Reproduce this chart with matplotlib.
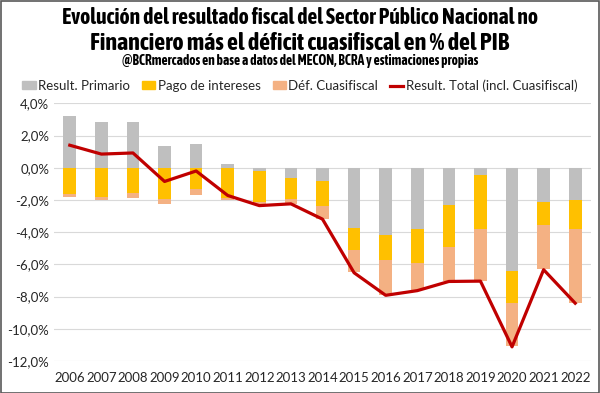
import numpy as np
from matplotlib import pyplot as plt
from matplotlib import font_manager
from matplotlib.patches import Patch, Rectangle
from matplotlib.lines import Line2D
from matplotlib.ticker import FuncFormatter

years = [str(y) for y in range(2006, 2023)]

# % del PIB
primario = [3.23, 2.86, 2.82, 1.38, 1.50, 0.25, -0.17, -0.66, -0.80,
            -3.77, -4.16, -3.79, -2.31, -0.43, -6.40, -2.12, -2.02]
intereses = [-1.65, -1.81, -1.57, -1.96, -1.32, -1.90, -1.93, -1.25, -1.59,
             -1.32, -1.56, -2.10, -2.61, -3.36, -1.98, -1.42, -1.77]
cuasifiscal = [-0.16, -0.17, -0.31, -0.29, -0.39, -0.08, -0.15, -0.37, -0.80,
               -1.41, -2.16, -1.72, -2.14, -3.25, -2.69, -2.76, -4.59]
total = [1.40, 0.85, 0.92, -0.85, -0.20, -1.72, -2.35, -2.24, -3.19,
         -6.52, -7.92, -7.63, -7.06, -7.04, -11.12, -6.33, -8.41]

c_prim = "#BFBFBF"
c_int = "#FFC000"
c_cuasi = "#F4B183"
c_tot = "#C00000"

plt.rcParams['font.family'] = ['Lato', 'DejaVu Sans']

# buscar una fuente angosta con negrita para el título
def es_angosta(f):
    n = f.name + " " + str(f.stretch)
    return any(k in n for k in ("Narrow", "Condensed", "condensed", "Cond"))

def peso(f):
    w = f.weight
    if isinstance(w, str):
        return 700 if "bold" in w.lower() else 400
    return w

cands = [f for f in font_manager.fontManager.ttflist if es_angosta(f) and peso(f) >= 600]
cands.sort(key=lambda f: (abs(peso(f) - 700), f.name))
title_family = [cands[0].name] if cands else []
title_family += ["DejaVu Sans"]

fig = plt.figure(figsize=(6, 3.93), dpi=100)
ax = fig.add_axes([0.09, 0.0814, 0.895, 0.6556])

x = np.arange(len(years))
pos = np.zeros(len(years))
neg = np.zeros(len(years))
for serie, col in [(primario, c_prim), (intereses, c_int), (cuasifiscal, c_cuasi)]:
    v = np.array(serie)
    base = np.where(v >= 0, pos, neg)
    ax.bar(x, v, width=0.4, bottom=base, color=col, zorder=2)
    pos = pos + np.where(v >= 0, v, 0)
    neg = neg + np.where(v < 0, v, 0)

ax.plot(x, total, color=c_tot, lw=2.3, zorder=3)

ax.set_xlim(-0.5, len(years) - 0.5)
ax.set_ylim(-12, 4)
ax.set_yticks(np.arange(-12, 5, 2))
ax.yaxis.set_major_formatter(FuncFormatter(lambda v, p: f"{v:.1f}%".replace(".", ",")))
ax.set_xticks(x)
ax.set_xticklabels(years)
ax.tick_params(length=0, labelsize=9.5, colors="#262626")
ax.tick_params(axis="x", pad=8)
ax.grid(axis="y", color="#D9D9D9", lw=0.8, zorder=0)
for s in ax.spines.values():
    s.set_visible(False)

tf = dict(ha="center", va="center", fontweight="bold", family=title_family,
          fontstretch="condensed")
t1 = fig.text(0.5, 0.955, "Evolución del resultado fiscal del Sector Público Nacional no",
              fontsize=14, **tf)
t2 = fig.text(0.5, 0.89, "Financiero más el déficit cuasifiscal en % del PIB",
              fontsize=14, **tf)
t3 = fig.text(0.5, 0.845, "@BCRmercados en base a datos del MECON, BCRA y estimaciones propias",
              fontsize=7, **tf)

handles = [
    Patch(color=c_prim, label="Result. Primario"),
    Patch(color=c_int, label="Pago de intereses"),
    Patch(color=c_cuasi, label="Déf. Cuasifiscal"),
    Line2D([], [], color=c_tot, lw=2.3, label="Result. Total (incl. Cuasifiscal)"),
]
fig.legend(handles=handles, loc="center", bbox_to_anchor=(0.5, 0.782), ncol=4,
           frameon=False, fontsize=9.5, handlelength=1.0, handleheight=0.6,
           handletextpad=0.2, columnspacing=0.9, labelcolor="#262626")

fig.add_artist(Rectangle((0.001, 0.001), 0.997, 0.997, transform=fig.transFigure,
                         fill=False, edgecolor="#595959", lw=1.2))

# ajustar tamaño de los títulos al ancho del original
fig.canvas.draw()
r = fig.canvas.get_renderer()
for t, w in [(t1, 477), (t2, 418), (t3, 356)]:
    cur = t.get_window_extent(r).width
    t.set_fontsize(t.get_fontsize() * w / cur)

fig.savefig("out.png", dpi=100)
